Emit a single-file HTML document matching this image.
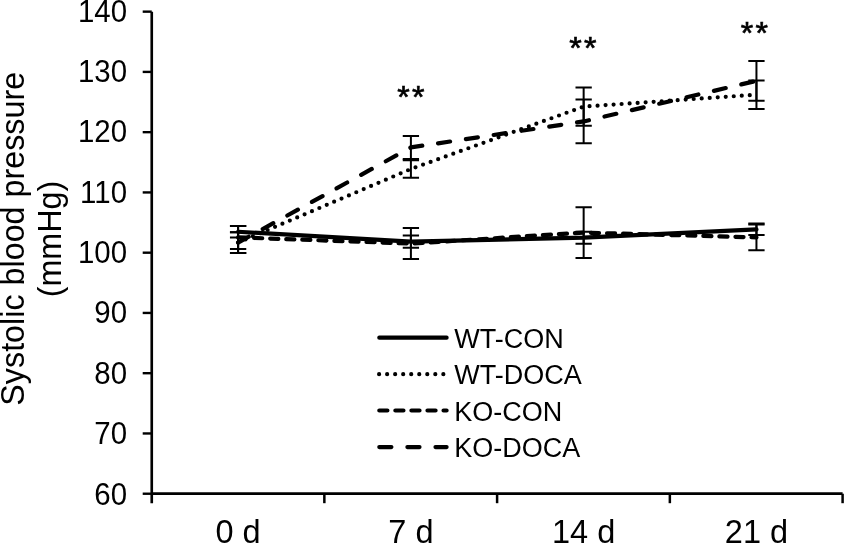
<!DOCTYPE html>
<html><head><meta charset="utf-8"><style>
html,body{margin:0;padding:0;background:#fff;}
body{width:845px;height:544px;overflow:hidden;}
svg{display:block;filter:grayscale(1);}
text{font-family:"Liberation Sans",sans-serif;fill:#000;}
</style></head><body>
<svg width="845" height="544" viewBox="0 0 845 544">

<g stroke="#000" fill="none" stroke-linecap="butt" stroke-linejoin="round">
<path d="M151.75 11.65 V503.2" stroke-width="2.65"/>
<path d="M142.7 11.65 H151.75" stroke-width="2.4"/>
<path d="M151.75 493.72 H842.6" stroke-width="2.8"/>
<path d="M842.6 493.72 V503.2" stroke-width="2.5"/>
<path d="M142.7 493.72 H151.75" stroke-width="2.4"/>
<path d="M142.7 433.46 H151.75" stroke-width="2.4"/>
<path d="M142.7 373.20 H151.75" stroke-width="2.4"/>
<path d="M142.7 312.94 H151.75" stroke-width="2.4"/>
<path d="M142.7 252.69 H151.75" stroke-width="2.4"/>
<path d="M142.7 192.43 H151.75" stroke-width="2.4"/>
<path d="M142.7 132.17 H151.75" stroke-width="2.4"/>
<path d="M142.7 71.91 H151.75" stroke-width="2.4"/>
<path d="M324.35 493.72 V503.2" stroke-width="2.5"/>
<path d="M497.1 493.72 V503.2" stroke-width="2.5"/>
<path d="M669.85 493.72 V503.2" stroke-width="2.5"/>
</g>
<g font-size="32" text-anchor="end">
<text transform="translate(127.0 504.50) scale(0.92 1)">60</text>
<text transform="translate(127.0 444.15) scale(0.92 1)">70</text>
<text transform="translate(127.0 383.80) scale(0.92 1)">80</text>
<text transform="translate(127.0 323.45) scale(0.92 1)">90</text>
<text transform="translate(127.0 263.10) scale(0.92 1)">100</text>
<text transform="translate(127.0 202.75) scale(0.92 1)">110</text>
<text transform="translate(127.0 142.40) scale(0.92 1)">120</text>
<text transform="translate(127.0 82.05) scale(0.92 1)">130</text>
<text transform="translate(127.0 21.70) scale(0.92 1)">140</text>
</g>
<g font-size="32.5" text-anchor="middle">
<text x="238.1" y="543.2">0 d</text>
<text x="410.9" y="543.2">7 d</text>
<text x="583.65" y="543.2">14 d</text>
<text x="756.45" y="543.2">21 d</text>
</g>
<g font-size="32.3" text-anchor="middle">
<text transform="translate(24.0 238.75) rotate(-90)">Systolic blood pressure</text>
<text transform="translate(61.3 239.0) rotate(-90)">(mmHg)</text>
</g>
<polyline points="238.1,231.75 410.9,241.65 583.65,237.7 756.45,229.3" fill="none" stroke="#000" stroke-width="4.2" stroke-linecap="round" stroke-linejoin="round"/>
<polyline points="238.1,242.6 410.9,169.0 583.65,106.6 756.45,94.7" fill="none" stroke="#000" stroke-width="4.2" stroke-linecap="round" stroke-linejoin="round" stroke-dasharray="0 8.03"/>
<polyline points="238.1,237.4 410.9,243.55 583.65,232.6 756.45,237.4" fill="none" stroke="#000" stroke-width="4.2" stroke-linecap="round" stroke-linejoin="round" stroke-dasharray="8.1 7.96"/>
<polyline points="238.1,242.6 410.9,147.4 583.65,121.45 756.45,80.85" fill="none" stroke="#000" stroke-width="4.2" stroke-linecap="round" stroke-linejoin="round" stroke-dasharray="12.1 16.0"/>
<g stroke="#000" stroke-width="2.0" fill="none">
<path d="M238.1 225.90 V237.60 M229.95 225.90 H246.25 M229.95 237.60 H246.25"/>
<path d="M410.9 235.60 V247.70 M402.75 235.60 H419.05 M402.75 247.70 H419.05"/>
<path d="M583.65 231.65 V243.75 M575.50 231.65 H591.80 M575.50 243.75 H591.80"/>
<path d="M756.45 223.60 V235.00 M748.30 223.60 H764.60 M748.30 235.00 H764.60"/>
<path d="M238.1 232.25 V252.95 M229.95 232.25 H246.25 M229.95 252.95 H246.25"/>
<path d="M410.9 160.15 V177.85 M402.75 160.15 H419.05 M402.75 177.85 H419.05"/>
<path d="M583.65 87.50 V125.70 M575.50 87.50 H591.80 M575.50 125.70 H591.80"/>
<path d="M756.45 80.50 V108.90 M748.30 80.50 H764.60 M748.30 108.90 H764.60"/>
<path d="M238.1 225.90 V248.90 M229.95 225.90 H246.25 M229.95 248.90 H246.25"/>
<path d="M410.9 228.10 V259.00 M402.75 228.10 H419.05 M402.75 259.00 H419.05"/>
<path d="M583.65 207.20 V258.00 M575.50 207.20 H591.80 M575.50 258.00 H591.80"/>
<path d="M756.45 224.60 V250.20 M748.30 224.60 H764.60 M748.30 250.20 H764.60"/>
<path d="M238.1 232.25 V252.95 M229.95 232.25 H246.25 M229.95 252.95 H246.25"/>
<path d="M410.9 135.90 V158.90 M402.75 135.90 H419.05 M402.75 158.90 H419.05"/>
<path d="M583.65 99.60 V143.30 M575.50 99.60 H591.80 M575.50 143.30 H591.80"/>
<path d="M756.45 60.90 V100.80 M748.30 60.90 H764.60 M748.30 100.80 H764.60"/>
</g>
<g font-size="32" text-anchor="middle" letter-spacing="2.35" stroke="#000" stroke-width="0.7">
<text x="412.0" y="107.5">**</text>
<text x="584.1" y="59.3">**</text>
<text x="755.6" y="44.0">**</text>
</g>
<line x1="379.3" y1="337.65" x2="446.6" y2="337.65" stroke="#000" stroke-width="4.2" stroke-linecap="round"/>
<text x="454.3" y="347.6" font-size="27">WT-CON</text>
<line x1="379.1" y1="374.2" x2="443.6" y2="374.2" stroke="#000" stroke-width="4.2" stroke-linecap="round" stroke-dasharray="0 8.03"/>
<text x="454.3" y="384.2" font-size="27">WT-DOCA</text>
<line x1="379.3" y1="410.5" x2="446.6" y2="410.5" stroke="#000" stroke-width="4.2" stroke-linecap="round" stroke-dasharray="8.1 7.96"/>
<text x="454.3" y="420.5" font-size="27">KO-CON</text>
<line x1="379.3" y1="447.1" x2="446.6" y2="447.1" stroke="#000" stroke-width="4.2" stroke-linecap="round" stroke-dasharray="12.1 16.0"/>
<text x="454.3" y="457.1" font-size="27">KO-DOCA</text>
</svg>
</body></html>
